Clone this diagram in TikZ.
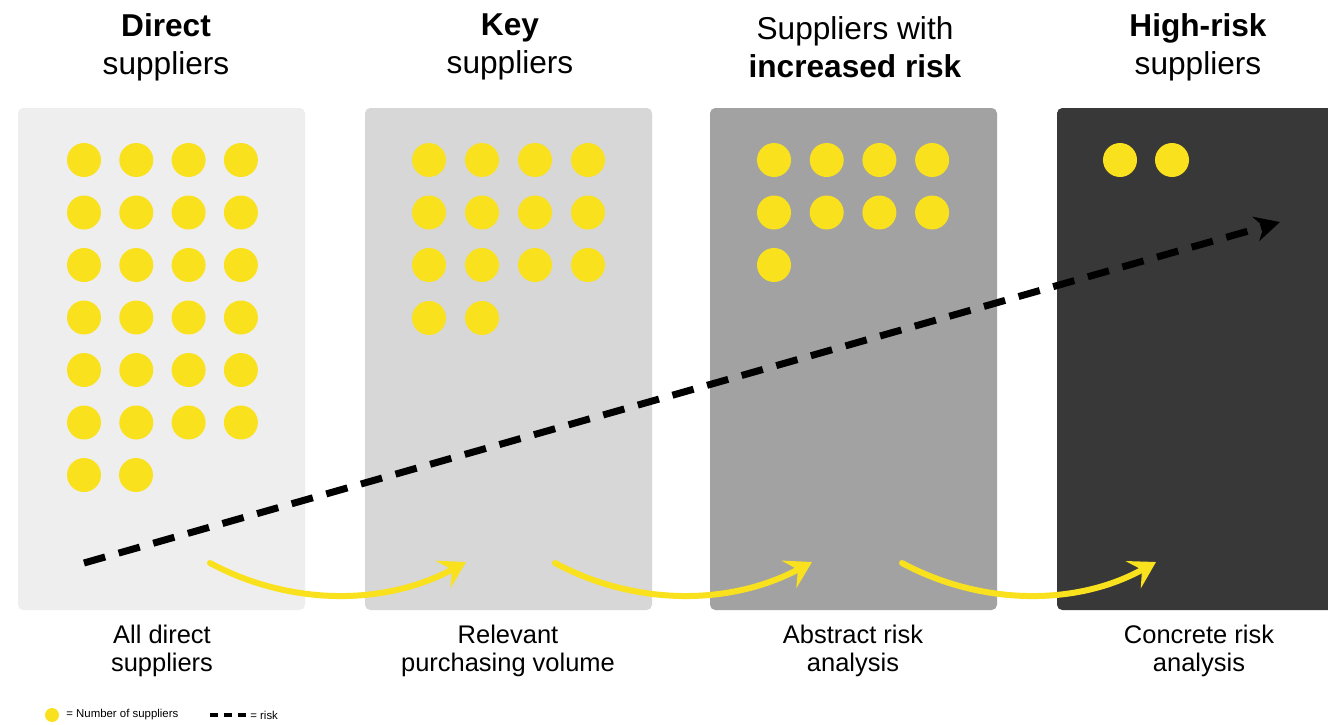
\documentclass[tikz,border=0pt]{standalone}
\usepackage{fontspec}
\setmainfont{Liberation Sans}
\usepackage{tikz}
\usetikzlibrary{arrows.meta}

\definecolor{supplieryellow}{HTML}{F9E11E}
\definecolor{panelone}{HTML}{EEEEEE}
\definecolor{paneltwo}{HTML}{D7D7D7}
\definecolor{panelthree}{HTML}{A2A2A2}
\definecolor{panelfour}{HTML}{383838}

\begin{document}
\begin{tikzpicture}
[x=0.02cm, y=-0.02cm,
  heading/.style={align=center, font=\fontsize{18}{21.6}\selectfont},
  caption/.style={align=center, font=\fontsize{14.5}{15.5}\selectfont},
  supplier/.style={circle, fill=supplieryellow, minimum size=0.68cm, inner sep=0pt},
  flow/.style={draw=supplieryellow, line width=0.12cm, line cap=round,
    -{Stealth[length=0.52cm, width=0.62cm, inset=0.2cm]}},
  risk/.style={draw=black, line width=0.14cm, dash pattern=on 0.44cm off 0.28cm,
    -{Stealth[length=0.5cm, width=0.5cm]}}]
  \useasboundingbox (0,0) rectangle (1328,724);
  \fill[white] (0,0) rectangle (1328,724);

  % panels
  \fill[panelone, rounded corners=3pt] (18,108) rectangle (305,610);
  \fill[paneltwo, rounded corners=3pt] (365,108) rectangle (652,610);
  \fill[panelthree, rounded corners=3pt] (710,108) rectangle (997,610);
  \fill[panelfour, rounded corners=3pt] (1057,108) rectangle (1360,610);

  % headings
  \node[heading] (h1) at (166,47) {\textbf{Direct}\\suppliers};
  \node[heading] (h2) at (510,47) {\textbf{Key}\\suppliers};
  \node[heading] (h3) at (855,47) {Suppliers with\\\textbf{increased risk}};
  \node[heading] (h4) at (1198,47) {\textbf{High-risk}\\suppliers};

  % suppliers
  \foreach \r in {0,...,5}
    \foreach \c in {0,...,3}
      \node[supplier] (a-\r-\c) at ({84+52.3*\c},{160+52.5*\r}) {};
  \node[supplier] (a-6-0) at (84,475) {};
  \node[supplier] (a-6-1) at (136,475) {};

  \foreach \r in {0,...,2}
    \foreach \c in {0,...,3}
      \node[supplier] (b-\r-\c) at ({429+53*\c},{160+52.5*\r}) {};
  \node[supplier] (b-3-0) at (429,318) {};
  \node[supplier] (b-3-1) at (482,318) {};

  \foreach \r in {0,1}
    \foreach \c in {0,...,3}
      \node[supplier] (c-\r-\c) at ({774+52.7*\c},{160+52.5*\r}) {};
  \node[supplier] (c-2-0) at (774,265) {};

  \node[supplier] (d-0-0) at (1120,160) {};
  \node[supplier] (d-0-1) at (1172,160) {};

  % flow arrows
  \coordinate (f1s) at (210,563);
  \coordinate (f1e) at (466,562);
  \coordinate (f2s) at (555,563);
  \coordinate (f2e) at (812,562);
  \coordinate (f3s) at (902,563);
  \coordinate (f3e) at (1156,562);
  \draw[flow] (f1s) .. controls (290,606) and (385,606) .. (f1e);
  \draw[flow] (f2s) .. controls (635,606) and (730,606) .. (f2e);
  \draw[flow] (f3s) .. controls (982,606) and (1077,606) .. (f3e);

  % risk
  \coordinate (rs) at (84,563);
  \coordinate (re) at (1280,222);
  \draw[risk] (rs) -- (re);

  % captions
  \node[caption] (c1) at (162,651) {All direct\\suppliers};
  \node[caption] (c2) at (508,651) {Relevant\\purchasing volume};
  \node[caption] (c3) at (853,651) {Abstract risk\\analysis};
  \node[caption] (c4) at (1199,651) {Concrete risk\\analysis};

  % legend
  \node[supplier, minimum size=0.28cm] (ld) at (52,715) {};
  \node[anchor=west, font=\fontsize{6.5}{7}\selectfont, inner sep=0pt] (lt) at (66,715) {= Number of suppliers};
  \coordinate (lrs) at (210,715);
  \coordinate (lre) at (246,715);
  \draw[black, line width=0.08cm, dash pattern=on 0.16cm off 0.12cm] (lrs) -- (lre);
  \node[anchor=west, font=\fontsize{6.5}{7}\selectfont, inner sep=0pt] (lr) at (250,715) {= risk};
\end{tikzpicture}
\end{document}
